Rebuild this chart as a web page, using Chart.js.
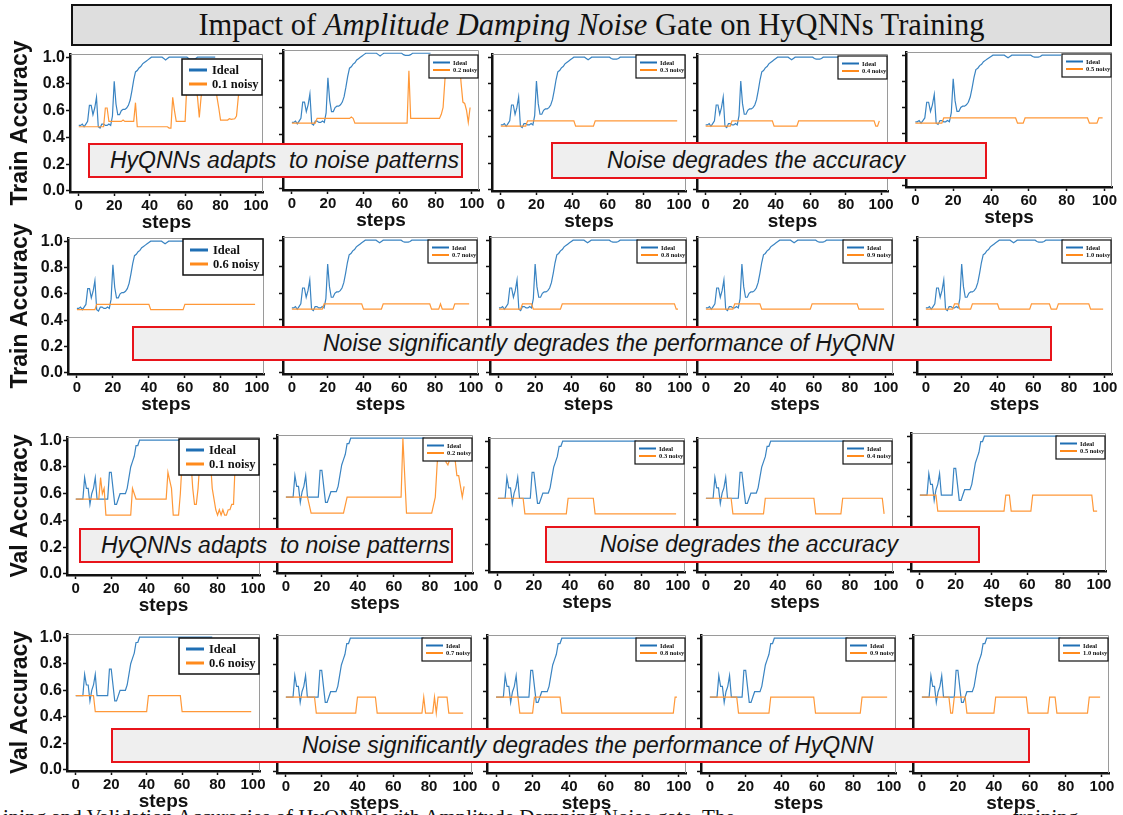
<!DOCTYPE html>
<html>
<head>
<meta charset="utf-8">
<script src="https://cdn.jsdelivr.net/npm/chart.js@4.4.0/dist/chart.umd.min.js"></script>
<style>
    html, body { margin: 0; padding: 0; background: #fff; }
    body { width: 1123px; height: 815px; position: relative; overflow: hidden; font-family: "Liberation Sans", Arial, sans-serif; }
    .titulo { position: absolute; left: 71px; top: 4px; width: 1041px; height: 42px; box-sizing: border-box;
              border: 2px solid #111; background: #dedede; font-family: "Liberation Serif", serif; font-size: 30.5px;
              line-height: 38px; text-align: center; color: #111; z-index: 5; }
    .nota { position: absolute; box-sizing: border-box; border: 2px solid #e8141b; background: #efefef;
            font-style: italic; font-size: 23px; color: #151515; white-space: pre; z-index: 5; }
    .pie { position: absolute; top: 805px; font-family: "Liberation Serif", serif; font-size: 21px; color: #111; white-space: pre; }
</style>
</head>
<body>

<div class="pie" style="left:3px">ining and Validation Accuracies of HyQNNs with Amplitude Damping Noise gate. The</div>
<div class="pie" style="left:1013px">training</div>

<div class="titulo">Impact of <i>Amplitude Damping Noise</i> Gate on HyQNNs Training</div>

<div class="nota" style="left:88px;top:143px;width:375px;height:35px;line-height:31px;padding-left:20px">HyQNNs adapts  to noise patterns</div>
<div class="nota" style="left:551px;top:142px;width:436px;height:37px;line-height:33px;padding-left:54px">Noise degrades the accuracy</div>
<div class="nota" style="left:132px;top:326px;width:920px;height:35px;line-height:31px;padding-left:189px">Noise significantly degrades the performance of HyQNN</div>
<div class="nota" style="left:79px;top:528px;width:374px;height:35px;line-height:31px;padding-left:20px">HyQNNs adapts  to noise patterns</div>
<div class="nota" style="left:545px;top:526px;width:435px;height:37px;line-height:33px;padding-left:53px">Noise degrades the accuracy</div>
<div class="nota" style="left:111px;top:728px;width:919px;height:35px;line-height:31px;padding-left:189px">Noise significantly degrades the performance of HyQNN</div>

<script>
/* ============================================================
   DATOS
============================================================ */

const STEP_TICKS = [0, 20, 40, 60, 80, 100];
const ACC_TICKS = [0, 0.2, 0.4, 0.6, 0.8, 1.0];
const NOISE_LEVELS = ["0.1", "0.2", "0.3", "0.4", "0.5", "0.6", "0.7", "0.8", "0.9", "1.0"];

// Ideal (sin ruido), pasos 0..77
const TRAIN_IDEAL = [
    0.49, 0.49, 0.50, 0.48, 0.50, 0.52, 0.64, 0.64, 0.57, 0.62,
    0.70, 0.48, 0.47, 0.50, 0.50, 0.49, 0.49, 0.50, 0.49, 0.56,
    0.82, 0.65, 0.57, 0.57, 0.60, 0.61, 0.61, 0.62, 0.64, 0.68,
    0.75, 0.83, 0.89, 0.90, 0.92, 0.93, 0.95, 0.96, 0.97, 0.98,
    0.99, 1.00, 1.00, 1.00, 1.00, 1.00, 1.00, 1.00, 0.99, 0.98,
    0.99, 1.00, 1.00, 1.00, 1.00, 1.00, 1.00, 1.00, 1.00, 1.00,
    1.00, 1.00, 0.99, 0.985, 0.985, 0.985, 0.99, 1.00, 1.00, 1.00,
    1.00, 1.00, 1.00, 1.00, 1.00, 1.00, 1.00, 1.00
];

const VAL_IDEAL = [
    0.56, 0.56, 0.56, 0.56, 0.56, 0.72, 0.64, 0.64, 0.52, 0.60,
    0.64, 0.72, 0.56, 0.56, 0.56, 0.56, 0.56, 0.56, 0.56, 0.76,
    0.76, 0.64, 0.52, 0.52, 0.56, 0.60, 0.60, 0.60, 0.60, 0.64,
    0.72, 0.80, 0.84, 0.88, 0.96, 0.96, 1.00, 1.00, 1.00, 1.00,
    1.00, 1.00, 1.00, 1.00, 1.00, 1.00, 1.00, 1.00, 1.00, 1.00,
    1.00, 1.00, 1.00, 1.00, 1.00, 1.00, 1.00, 1.00, 1.00, 1.00,
    1.00, 1.00, 1.00, 1.00, 1.00, 1.00, 1.00, 1.00, 1.00, 1.00,
    1.00, 1.00, 1.00, 1.00, 1.00, 1.00, 1.00, 1.00
];

// Ruidosas: [paso, accuracy] en los puntos de cambio
const TR_01 = [[0,.48],[14,.48],[15,.62],[16,.62],[17,.52],[24,.52],[25,.53],[26,.52],[31,.52],[32,.66],[33,.48],
               [50,.48],[51,.47],[52,.47],[53,.70],[54,.60],[55,.52],[60,.52],[61,.80],[66,.80],[67,.70],[68,.55],
               [69,.70],[70,.80],[77,.80],[78,.70],[79,.62],[80,.53],[84,.53],[85,.54],[86,.535],[88,.54],[89,.56],
               [90,.70],[91,.80],[99,.80]];
const TR_02 = [[0,.485],[13,.485],[14,.52],[32,.52],[33,.53],[34,.52],[35,.485],[64,.485],[65,.87],[66,.52],
               [82,.52],[83,.55],[84,.60],[85,.80],[86,.95],[93,.95],[94,.78],[95,.64],[96,.63],[97,.58],[98,.49],[99,.60]];
const TR_03 = [[0,.48],[14,.48],[15,.52],[41,.52],[42,.48],[52,.48],[53,.52],[99,.52]];
const TR_04 = [[0,.48],[14,.48],[15,.52],[38,.52],[39,.48],[52,.48],[53,.52],[96,.52],[97,.48],[98,.48],[99,.52]];
const TR_05 = [[0,.48],[14,.48],[15,.52],[53,.52],[54,.48],[57,.48],[58,.52],[91,.52],[92,.48],[96,.48],[97,.52],[99,.52]];
const TR_06 = [[0,.48],[10,.48],[11,.52],[40,.52],[41,.48],[59,.48],[60,.52],[99,.52]];
const TR_07 = [[0,.48],[17,.48],[18,.52],[39,.52],[40,.48],[50,.48],[51,.52],[77,.52],[78,.48],[82,.48],[83,.52],
               [84,.48],[90,.48],[91,.52],[99,.52]];
const TR_08 = [[0,.48],[12,.48],[13,.52],[18,.52],[19,.48],[34,.48],[35,.52],[97,.52],[98,.48],[99,.48]];
const TR_09 = [[0,.48],[15,.48],[16,.52],[30,.52],[31,.48],[58,.48],[59,.52],[84,.52],[85,.48],[99,.48]];
const TR_10 = [[0,.48],[15,.48],[16,.52],[18,.52],[19,.48],[25,.48],[26,.52],[40,.52],[41,.48],[58,.48],[59,.52],
               [69,.52],[70,.48],[73,.48],[74,.52],[91,.52],[92,.48],[99,.48]];

const VA_01 = [[0,.56],[13,.56],[14,.72],[15,.60],[16,.64],[17,.44],[31,.44],[32,.64],[33,.60],[34,.56],[51,.56],
               [52,.76],[53,.70],[54,.64],[55,.44],[58,.44],[59,.60],[60,.84],[65,.84],[66,.64],[67,.52],[68,.52],
               [69,.64],[70,.84],[76,.84],[77,.64],[78,.56],[79,.48],[80,.44],[81,.48],[82,.44],[83,.48],[84,.44],
               [85,.44],[86,.48],[87,.48],[88,.52],[89,.52],[90,.84],[99,.84]];
const VA_02 = [[0,.56],[12,.56],[14,.44],[32,.44],[34,.56],[64,.56],[65,1.0],[67,.44],[81,.44],[83,.56],[84,.80],
               [85,.96],[88,.96],[89,.82],[90,.80],[91,.84],[94,.84],[95,.72],[96,.72],[97,.64],[98,.56],[99,.64]];
const VA_03 = [[0,.56],[14,.56],[15,.44],[38,.44],[39,.56],[53,.56],[54,.44],[99,.44]];
const VA_04 = [[0,.56],[14,.56],[15,.44],[32,.44],[33,.56],[60,.56],[61,.44],[75,.44],[76,.56],[98,.56],[99,.44]];
const VA_05 = [[0,.56],[9,.56],[10,.44],[47,.44],[48,.56],[50,.56],[51,.44],[62,.44],[63,.56],[96,.56],[97,.44],[99,.44]];
const VA_06 = [[0,.56],[10,.56],[11,.44],[40,.44],[41,.56],[59,.56],[60,.44],[99,.44]];
const VA_07 = [[0,.56],[16,.56],[17,.44],[39,.44],[40,.56],[50,.56],[51,.44],[76,.44],[77,.56],[78,.44],[82,.44],
               [83,.56],[84,.44],[85,.56],[90,.56],[91,.44],[99,.44]];
const VA_08 = [[0,.56],[12,.56],[13,.44],[20,.44],[21,.56],[35,.56],[36,.44],[97,.44],[98,.56],[99,.56]];
const VA_09 = [[0,.56],[15,.56],[16,.44],[33,.44],[34,.56],[58,.56],[59,.44],[84,.44],[85,.56],[99,.56]];
const VA_10 = [[0,.56],[15,.56],[16,.44],[17,.44],[18,.56],[24,.56],[25,.44],[40,.44],[41,.56],[58,.56],[59,.44],
               [70,.44],[71,.56],[74,.56],[75,.44],[92,.44],[93,.56],[99,.56]];

const TRAIN_NOISY = [TR_01, TR_02, TR_03, TR_04, TR_05, TR_06, TR_07, TR_08, TR_09, TR_10];
const VAL_NOISY = [VA_01, VA_02, VA_03, VA_04, VA_05, VA_06, VA_07, VA_08, VA_09, VA_10];

/* ============================================================
   MAQUETACION (marco de cada panel: izq, arriba, der, abajo)
============================================================ */

const MARCOS = [
    [70,54,263,192], [283,50,479,190], [492,54,686,191], [697,54,888,191], [906,52,1112,187],
    [68,238,264,374], [283,237,478,374], [490,237,687,374], [697,237,893,374], [917,237,1112,374],
    [67,437,260,575], [277,435,473,573], [489,438,685,572], [697,438,893,572], [911,433,1106,571],
    [67,634,260,771], [277,635,472,773], [487,635,686,773], [701,635,896,773], [913,635,1109,773]
];
const LEG_TOP = [5,5,1,2,2, 1,3,3,3,3, 2,3,3,3,3, 4,3,3,3,3];

const AZUL = "#3a84c2";
const NARANJA = "#ff9838";
const AZUL_LEG = "#1f6fb4";
const NARANJA_LEG = "#ff8a1c";
const FUENTE = "'Liberation Sans', Arial, sans-serif";

/* Marco gris arriba / derecha */
const marcoGris = {
    id: "marcoGris",
    beforeDatasetsDraw(chart) {
        const { ctx, chartArea: a } = chart;
        ctx.save();
        ctx.strokeStyle = "#9a9a9a";
        ctx.lineWidth = 1;
        ctx.beginPath();
        ctx.moveTo(a.left, a.top + 0.5);
        ctx.lineTo(a.right - 0.5, a.top + 0.5);
        ctx.lineTo(a.right - 0.5, a.bottom);
        ctx.stroke();
        ctx.restore();
    }
};

/* Leyenda con caja blanca dentro del area */
const cajaLeyenda = {
    id: "cajaLeyenda",
    afterDatasetsDraw(chart, args, opts) {
        const { ctx, chartArea: a } = chart;
        const big = opts.big;
        const w = big ? 80 : 49;
        const h = big ? 36 : 23;
        const x = a.right - w - 1;
        const y = a.top + opts.top;

        ctx.save();
        ctx.fillStyle = "#fff";
        ctx.fillRect(x, y, w, h);
        ctx.strokeStyle = "#111";
        ctx.lineWidth = big ? 1.5 : 1.2;
        ctx.strokeRect(x, y, w, h);

        ctx.font = "bold " + (big ? 12.5 : 6.5) + "px 'Liberation Serif', serif";
        ctx.textBaseline = "middle";
        chart.data.datasets.forEach((ds, k) => {
            const ly = y + (big ? 11 + k * 14 : 7.5 + k * 7.5);
            ctx.strokeStyle = ds.colorLeyenda;
            ctx.lineWidth = big ? 3 : 2;
            ctx.beginPath();
            ctx.moveTo(x + (big ? 7 : 4), ly);
            ctx.lineTo(x + (big ? 25 : 21), ly);
            ctx.stroke();
            ctx.fillStyle = "#111";
            ctx.fillText(ds.label, x + (big ? 30 : 24), ly + 0.5);
        });
        ctx.restore();
    }
};

Chart.register(marcoGris, cajaLeyenda);

function crearPanel(i) {
    const [l, t, r, b] = MARCOS[i];
    const col = i % 5;
    const esVal = i >= 10;
    const yW = col === 0 ? l : 7;
    const topPad = col === 0 ? 24 : 3;
    const rightPad = 12, xH = 42;
    const W = (r - l) + yW + rightPad;
    const H = (b - t) + topPad + xH;

    const cv = document.createElement("canvas");
    cv.width = W;
    cv.height = H;
    cv.style.cssText = `position:absolute;left:${l - yW}px;top:${t - topPad}px;width:${W}px;height:${H}px;`;
    document.body.appendChild(cv);

    const ideal = esVal ? VAL_IDEAL : TRAIN_IDEAL;
    const ruido = esVal ? VAL_NOISY[i - 10] : TRAIN_NOISY[i];

    new Chart(cv, {
        type: "line",
        data: {
            datasets: [
                {
                    label: "Ideal",
                    data: ideal.map((v, k) => ({ x: k, y: v })),
                    borderColor: AZUL,
                    colorLeyenda: AZUL_LEG,
                    borderWidth: 1.2,
                    pointRadius: 0,
                    tension: 0,
                    order: 1
                },
                {
                    label: NOISE_LEVELS[i % 10] + " noisy",
                    data: ruido.map(p => ({ x: p[0], y: p[1] })),
                    borderColor: NARANJA,
                    colorLeyenda: NARANJA_LEG,
                    borderWidth: 1.2,
                    pointRadius: 0,
                    tension: 0,
                    order: 0
                }
            ]
        },
        options: {
            responsive: false,
            animation: false,
            devicePixelRatio: 1,
            layout: { padding: { top: topPad, right: rightPad, left: 0, bottom: 0 } },
            plugins: {
                legend: { display: false },
                tooltip: { enabled: false },
                cajaLeyenda: { big: col === 0, top: LEG_TOP[i] }
            },
            scales: {
                x: {
                    type: "linear",
                    min: -4.95,
                    max: 103.95,
                    afterBuildTicks: s => { s.ticks = STEP_TICKS.map(v => ({ value: v })); },
                    afterFit: s => { s.height = xH; s.paddingLeft = 0; s.paddingRight = 0; },
                    grid: { drawOnChartArea: false, tickLength: 4, tickColor: "#111", tickWidth: 1.5 },
                    border: { color: "#111", width: 2.5 },
                    ticks: {
                        color: "#111",
                        font: { family: FUENTE, size: 15, weight: "bold" },
                        padding: 1,
                        maxRotation: 0,
                        autoSkip: false
                    },
                    title: {
                        display: true,
                        text: "steps",
                        color: "#111",
                        font: { family: FUENTE, size: 19, weight: "bold" },
                        padding: { top: 0, bottom: 0 }
                    }
                },
                y: {
                    min: -0.008,
                    max: 1.024,
                    afterBuildTicks: s => { s.ticks = ACC_TICKS.map(v => ({ value: v })); },
                    afterFit: s => { s.width = yW; s.paddingTop = 0; s.paddingBottom = 0; },
                    grid: { drawOnChartArea: false, tickLength: 4, tickColor: "#111", tickWidth: 1.5 },
                    border: { color: "#111", width: 2.5 },
                    ticks: {
                        color: "#111",
                        font: { family: FUENTE, size: 16, weight: "bold" },
                        padding: 1,
                        callback: v => col === 0 ? Number(v).toFixed(1) : ""
                    },
                    title: {
                        display: col === 0,
                        text: esVal ? "Val Accuracy" : "Train Accuracy",
                        color: "#111",
                        font: { family: FUENTE, size: 23, weight: "bold" },
                        padding: { top: 7, bottom: 0 }
                    }
                }
            }
        }
    });
}

for (let i = 0; i < MARCOS.length; i++) crearPanel(i);
</script>
</body>
</html>
